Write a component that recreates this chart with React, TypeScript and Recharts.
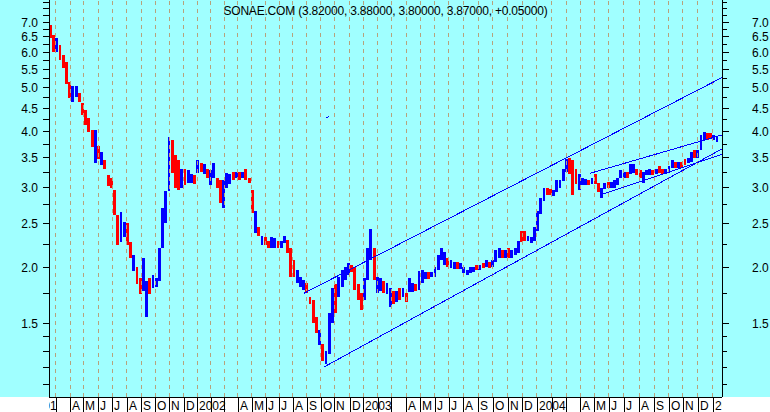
import React from 'react';
import { ComposedChart, Bar, Cell, XAxis, YAxis, ReferenceLine } from 'recharts';

// Weekly bars (index = week since mid-Feb 2001)
const weekHigh = [
  6.90, 6.56, 6.45, 6.23, 5.92, 5.70, 5.15, 5.05, 5.05, 4.87,
  4.62, 4.46, 4.28, 4.03, 4.03, 3.72, 3.60, 3.45, 3.20, 3.15,
  2.96, 2.61, 2.65, 2.52, 2.50, 2.27, 2.13, 2.00, 1.89, 2.10,
  1.86, 1.89, 1.92, 1.89, 2.20, 2.70, 2.95, 3.88, 3.83, 3.55,
  3.45, 3.30, 3.30, 3.28, 3.22, 3.20, 3.45, 3.40, 3.38, 3.30,
  3.28, 3.40, 3.16, 3.12, 3.12, 3.23, 3.22, 3.25, 3.25, 3.25,
  3.25, 3.30, 3.16, 2.96, 2.67, 2.45, 2.35, 2.33, 2.29, 2.33,
  2.32, 2.29, 2.29, 2.34, 2.30, 2.20, 2.07, 1.97, 1.90, 1.87,
  1.84, 1.72, 1.69, 1.55, 1.45, 1.35, 1.30, 1.58, 1.80, 1.83,
  1.90, 1.97, 2.00, 2.04, 2.02, 2.00, 1.83, 1.75, 1.89, 2.21,
  2.43, 2.21, 1.90, 1.89, 1.86, 1.84, 1.80, 1.77, 1.77, 1.80,
  1.80, 1.75, 1.89, 1.84, 1.83, 1.96, 1.97, 1.95, 1.95, 1.95,
  2.00, 2.13, 2.21, 2.16, 2.10, 2.07, 2.05, 2.05, 2.04, 2.00,
  1.97, 2.00, 2.00, 2.02, 2.02, 2.04, 2.07, 2.05, 2.07, 2.18,
  2.21, 2.18, 2.18, 2.20, 2.18, 2.21, 2.29, 2.41, 2.41, 2.35,
  2.33, 2.45, 2.67, 2.85, 3.00, 3.00, 2.98, 2.96, 3.12, 3.12,
  3.30, 3.48, 3.50, 3.45, 3.30, 3.22, 3.15, 3.13, 3.12, 3.16,
  3.22, 3.07, 3.00, 3.07, 3.09, 3.09, 3.12, 3.16, 3.28, 3.25,
  3.25, 3.38, 3.38, 3.30, 3.28, 3.25, 3.28, 3.30, 3.28, 3.30,
  3.36, 3.30, 3.30, 3.36, 3.45, 3.42, 3.42, 3.42, 3.48, 3.50,
  3.60, 3.63, 3.63, 3.93, 4.00, 3.97, 3.97, 3.93, 3.88,
];
const weekLow = [
  6.45, 6.02, 6.00, 5.77, 5.54, 5.10, 4.75, 4.65, 4.78, 4.65,
  4.35, 4.13, 3.98, 3.70, 3.40, 3.48, 3.37, 3.30, 3.03, 3.00,
  2.61, 2.24, 2.27, 2.33, 2.24, 2.09, 1.96, 1.83, 1.74, 1.77,
  1.55, 1.74, 1.80, 1.81, 1.86, 2.20, 2.50, 2.95, 3.23, 3.00,
  2.96, 3.00, 3.05, 3.08, 3.08, 3.06, 3.23, 3.25, 3.22, 3.15,
  3.05, 3.15, 3.00, 2.77, 2.70, 3.00, 3.06, 3.12, 3.15, 3.12,
  3.15, 3.12, 3.07, 2.64, 2.38, 2.34, 2.24, 2.24, 2.20, 2.21,
  2.21, 2.21, 2.21, 2.26, 2.15, 1.90, 1.90, 1.84, 1.81, 1.78,
  1.75, 1.66, 1.50, 1.43, 1.34, 1.24, 1.22, 1.28, 1.50, 1.58,
  1.72, 1.81, 1.87, 1.92, 1.95, 1.78, 1.69, 1.61, 1.69, 1.87,
  2.07, 1.87, 1.75, 1.77, 1.75, 1.74, 1.63, 1.66, 1.67, 1.69,
  1.72, 1.67, 1.76, 1.76, 1.77, 1.78, 1.84, 1.88, 1.88, 1.90,
  1.90, 1.97, 2.07, 2.02, 2.00, 1.99, 1.98, 1.98, 1.98, 1.94,
  1.92, 1.94, 1.95, 1.97, 1.97, 1.99, 2.00, 1.99, 2.00, 2.05,
  2.10, 2.09, 2.09, 2.10, 2.09, 2.13, 2.15, 2.27, 2.29, 2.28,
  2.26, 2.29, 2.41, 2.63, 2.81, 2.89, 2.89, 2.87, 2.93, 3.00,
  3.10, 3.25, 3.22, 2.89, 3.06, 2.96, 3.04, 3.04, 3.04, 3.06,
  3.06, 2.93, 2.85, 2.98, 3.00, 2.99, 3.00, 3.04, 3.15, 3.15,
  3.15, 3.22, 3.24, 3.20, 3.15, 3.08, 3.20, 3.20, 3.20, 3.22,
  3.24, 3.22, 3.22, 3.24, 3.32, 3.32, 3.32, 3.32, 3.37, 3.40,
  3.42, 3.50, 3.50, 3.63, 3.83, 3.83, 3.87, 3.83, 3.80,
];
const weekUp = [
  0, 0, 1, 0, 0, 0, 0, 1, 1, 0,
  0, 0, 0, 0, 1, 0, 1, 0, 0, 0,
  0, 0, 1, 1, 0, 0, 1, 0, 0, 1,
  1, 0, 1, 1, 1, 1, 1, 1, 0, 0,
  0, 1, 0, 1, 1, 0, 1, 0, 1, 0,
  1, 1, 0, 0, 1, 1, 1, 0, 1, 0,
  1, 0, 0, 0, 1, 0, 1, 0, 0, 1,
  1, 0, 1, 1, 0, 0, 0, 1, 1, 1,
  0, 0, 0, 0, 1, 0, 1, 1, 1, 0,
  1, 1, 1, 1, 0, 0, 0, 0, 1, 1,
  1, 0, 1, 1, 0, 1, 1, 0, 1, 0,
  1, 0, 1, 1, 0, 1, 1, 1, 0, 1,
  1, 1, 1, 1, 0, 1, 1, 0, 1, 1,
  1, 1, 1, 0, 1, 0, 1, 0, 1, 1,
  1, 0, 1, 0, 1, 1, 1, 0, 0, 1,
  1, 1, 1, 1, 1, 0, 0, 1, 1, 1,
  1, 1, 0, 0, 0, 1, 1, 1, 0, 1,
  0, 0, 1, 1, 0, 1, 1, 1, 1, 1,
  0, 1, 1, 0, 0, 1, 1, 1, 0, 1,
  0, 0, 1, 1, 1, 0, 1, 0, 0, 1,
  1, 0, 1, 1, 1, 0, 0, 1, 1,
];

// Month starts (in week units), Jan 2001 .. Jan 2005
const monthStarts = [
  -7.15, -2.84, 1.53, 6.15, 10.2, 14.94, 19.16, 23.71, 28.36, 32.73, 37.1, 41.56,
  45.74, 49.98, 54.16, 58.35, 62.71, 67.21, 71.36, 75.63, 79.91, 84.3, 88.58, 93.35,
  97.57, 102.15, 106.36, 110.98, 115.32, 119.81, 124.24, 128.77, 133.42, 138.03, 142.71, 147.24,
  151.67, 156.35, 160.9, 165.27, 169.7, 174.23, 178.91, 183.74, 188.42, 192.89, 197.32, 202.0,
  206.68,
];
const monthLetters = ['', '', '', 'A', 'M', 'J', 'J', 'A', 'S', 'O', 'N', 'D'];
const firstYear = 2001;

const majorTicks = [1.5, 2.0, 2.5, 3.0, 3.5, 4.0, 4.5, 5.0, 5.5, 6.0, 6.5, 7.0];
const minorTicks = [1.1, 1.2, 1.3, 1.4, 1.75, 2.25, 2.75, 3.25, 3.75, 4.25, 4.75, 5.25, 5.75, 6.25, 6.75, 7.25, 7.5, 7.75];
const allTicks = [...minorTicks, ...majorTicks].sort((a, b) => a - b);

// Trend lines: [startWeek, startPrice, endWeek, endPrice]
const trendStartW = [79.1, 85.3, 168.3, 171.9, 85.9];
const trendStartP = [1.75, 1.20, 3.23, 2.90, 4.28];
const trendEndW = [209.5, 209.5, 209.5, 209.5, 86.9];
const trendEndP = [5.27, 3.66, 3.93, 3.56, 4.33];

const title = 'SONAE.COM (3.82000, 3.88000, 3.80000, 3.87000, +0.05000)';

const data = weekHigh.map((h, i) => ({ w: i, range: [weekLow[i], h], up: weekUp[i] }));

const FONT = '"Liberation Sans", Arial, Helvetica, sans-serif';
const Y_DOMAIN: [number, number] = [1.0294, 7.835];

const monthLabel = (k: number) => {
  const m = k % 12;
  if (m === 0) return String(firstYear + Math.floor(k / 12));
  return monthLetters[m];
};

const XTick = (props: any) => {
  const { x, payload } = props;
  const k = monthStarts.indexOf(payload.value);
  const label = monthLabel(k);
  const xl = Math.round(x);
  return (
    <svg x={49} y={397} width={673} height={15} overflow="hidden">
      <line x1={xl - 49 + 0.5} x2={xl - 49 + 0.5} y1={0} y2={15} stroke="#000" />
      {label ? (
        <text x={xl - 49 + 2} y={13} fontSize={12} fontFamily={FONT} fill="#000">
          {label}
        </text>
      ) : null}
    </svg>
  );
};

const LeftTick = (props: any) => {
  const { y, payload } = props;
  const v = payload.value;
  const major = majorTicks.includes(v);
  const yy = Math.floor(y) + 0.5;
  return (
    <g>
      <line x1={43} x2={49} y1={yy} y2={yy} stroke="#000" />
      {major ? (
        <text x={38} y={yy + 4} textAnchor="end" fontSize={12} fontFamily={FONT} fill="#000">
          {v.toFixed(1)}
        </text>
      ) : null}
    </g>
  );
};

const RightTick = (props: any) => {
  const { y, payload } = props;
  const v = payload.value;
  const major = majorTicks.includes(v);
  const yy = Math.floor(y) + 0.5;
  return (
    <g>
      <line x1={722} x2={major ? 729 : 727} y1={yy} y2={yy} stroke="#000" />
      {major ? (
        <text x={752} y={yy + 4} textAnchor="start" fontSize={12} fontFamily={FONT} fill="#000">
          {v.toFixed(1)}
        </text>
      ) : null}
    </g>
  );
};

export default function App() {
  return (
    <div
      style={{
        position: 'absolute',
        left: 0,
        top: 0,
        width: 770,
        height: 412,
        background: 'linear-gradient(to bottom, #a0ffff 0px, #a0ffff 397px, #ffffff 397px, #ffffff 412px)',
      }}
    >
      <style>{`.rc-crisp line, .rc-crisp path, .rc-crisp rect { shape-rendering: crispEdges; }`}</style>
      <div className="rc-crisp" style={{ position: 'absolute', left: 0, top: 0 }}>
        <ComposedChart width={770} height={412} data={data} margin={{ top: 0, right: 0, bottom: 0, left: 0 }}>
          <XAxis
            dataKey="w"
            type="number"
            domain={[-0.5, 209.5]}
            allowDataOverflow
            ticks={monthStarts}
            interval={0}
            height={15}
            tick={<XTick />}
            tickLine={false}
            axisLine={{ stroke: '#000' }}
          />
          <YAxis
            yAxisId="left"
            orientation="left"
            type="number"
            width={49}
            scale="log"
            domain={Y_DOMAIN}
            allowDataOverflow
            ticks={allTicks}
            interval={0}
            tick={<LeftTick />}
            tickLine={false}
            axisLine={{ stroke: '#000' }}
          />
          <YAxis
            yAxisId="right"
            orientation="right"
            type="number"
            width={48}
            scale="log"
            domain={Y_DOMAIN}
            allowDataOverflow
            ticks={allTicks}
            interval={0}
            tick={<RightTick />}
            tickLine={false}
            axisLine={{ stroke: '#000' }}
          />
          {monthStarts
            .filter((m) => m > -0.5)
            .map((m) => (
              <ReferenceLine
                key={'g' + m}
                x={m}
                yAxisId="left"
                stroke="#b8a27c"
                strokeDasharray="4 4"
                ifOverflow="hidden"
              />
            ))}
          <Bar yAxisId="left" dataKey="range" barSize={4} isAnimationActive={false}>
            {data.map((d, i) => (
              <Cell key={i} fill={d.up ? '#0000ff' : '#ff0000'} />
            ))}
          </Bar>
          {trendStartW.map((w, i) => (
            <ReferenceLine
              key={'t' + i}
              yAxisId="left"
              ifOverflow="hidden"
              stroke="#0000ff"
              strokeWidth={1}
              segment={[
                { x: w, y: trendStartP[i] },
                { x: trendEndW[i], y: trendEndP[i] },
              ]}
            />
          ))}
        </ComposedChart>
      </div>
      <div
        style={{
          position: 'absolute',
          left: 49,
          top: 4,
          width: 673,
          textAlign: 'center',
          fontFamily: FONT,
          fontSize: 12,
          lineHeight: '14px',
          letterSpacing: -0.2,
          color: '#000',
          pointerEvents: 'none',
          whiteSpace: 'nowrap',
        }}
      >
        {title}
      </div>
    </div>
  );
}
